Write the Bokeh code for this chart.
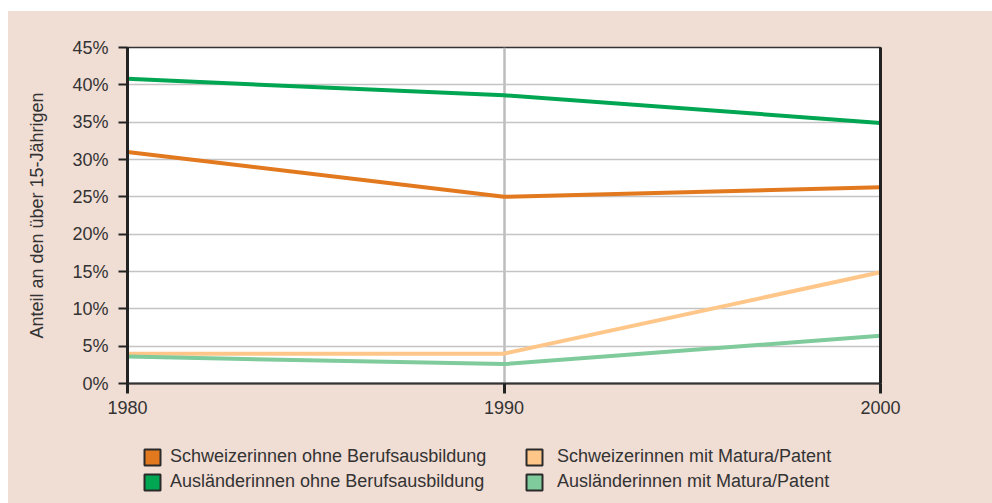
from bokeh.plotting import figure
from bokeh.models import (Range1d, LinearAxis, FixedTicker, Legend, LegendItem, Spacer)
from bokeh.layouts import column, row
from bokeh.embed import file_html
from bokeh.resources import INLINE

years = [1980, 1990, 2000]
ch_ohne = [31.0, 25.0, 26.3]
aus_ohne = [40.8, 38.6, 34.9]
ch_matura = [4.0, 4.0, 14.9]
aus_matura = [3.6, 2.6, 6.4]

series_names = ["Schweizerinnen ohne Berufsausbildung",
                "Ausländerinnen ohne Berufsausbildung",
                "Schweizerinnen mit Matura/Patent",
                "Ausländerinnen mit Matura/Patent"]
series_values = [ch_ohne, aus_ohne, ch_matura, aus_matura]
colors = ["#E2791F", "#00A651", "#FFC68A", "#7FCB9C"]

y_ticks = [0, 5, 10, 15, 20, 25, 30, 35, 40, 45]
y_labels = ["0%", "5%", "10%", "15%", "20%", "25%", "30%", "35%", "40%", "45%"]
x_ticks = [1980, 1990, 2000]
x_labels = ["1980", "1990", "2000"]

FONT = "Liberation Sans"
TXT = "#333333"
BG = "#F0DDD4"
NAN = float("nan")

p = figure(width=984, height=429, output_backend="svg", toolbar_location=None,
           x_range=Range1d(1980, 2000), y_range=Range1d(0, 45),
           min_border_left=119, min_border_right=112, min_border_top=36,
           min_border_bottom=57)
p.border_fill_color = BG
p.background_fill_color = "white"
p.outline_line_color = "#333333"
p.outline_line_width = 1.5

# axes
p.yaxis.ticker = FixedTicker(ticks=y_ticks)
p.yaxis.major_label_overrides = {t: l for t, l in zip(y_ticks, y_labels)}
p.yaxis.axis_line_width = 3
p.yaxis.axis_line_color = "#222222"
p.yaxis.major_tick_line_width = 2
p.yaxis.major_tick_line_color = "#222222"
p.yaxis.major_tick_out = 9
p.yaxis.major_tick_in = 0
p.yaxis.minor_tick_line_color = None
p.yaxis.major_label_standoff = 10
p.yaxis.axis_label = "Anteil an den über 15-Jährigen"
p.yaxis.axis_label_standoff = 22
p.yaxis.axis_label_text_font = FONT
p.yaxis.axis_label_text_font_style = "normal"
p.yaxis.axis_label_text_font_size = "18px"
p.yaxis.axis_label_text_color = TXT

p.xaxis.ticker = FixedTicker(ticks=x_ticks)
p.xaxis.major_label_overrides = {t: l for t, l in zip(x_ticks, x_labels)}
p.xaxis.axis_line_width = 2
p.xaxis.axis_line_color = "#333333"
p.xaxis.major_tick_line_width = 3
p.xaxis.major_tick_line_color = "#222222"
p.xaxis.major_tick_out = 10
p.xaxis.major_tick_in = 0
p.xaxis.minor_tick_line_color = None
p.xaxis.major_label_standoff = 7

for ax in (p.xaxis, p.yaxis):
    ax.major_label_text_font = FONT
    ax.major_label_text_font_size = "18px"
    ax.major_label_text_color = TXT

right = LinearAxis(ticker=FixedTicker(ticks=[]), axis_line_width=3,
                   axis_line_color="#222222", major_label_text_font_size="0px",
                   minor_tick_line_color=None)
p.add_layout(right, "right")

# grid
p.ygrid.ticker = FixedTicker(ticks=y_ticks)
p.ygrid.grid_line_color = "#C4C4C4"
p.ygrid.grid_line_width = 1.5
p.xgrid.ticker = FixedTicker(ticks=[1990])
p.xgrid.grid_line_color = "#BDBDBD"
p.xgrid.grid_line_width = 2.5

for vals, col in zip(series_values, colors):
    p.line(years, vals, line_color=col, line_width=4)

# legend strip below the chart (its frame aligns with the chart frame)
lg_fig = figure(width=984, height=63, output_backend="svg", toolbar_location=None,
                x_range=Range1d(0, 1), y_range=Range1d(0, 1), min_border=0)
lg_fig.axis.visible = False
lg_fig.grid.visible = False
lg_fig.outline_line_color = None
lg_fig.background_fill_alpha = 0
lg_fig.border_fill_alpha = 0

items = []
for name, col in zip(series_names, colors):
    # invisible proxy (NaN geometry) supplying the square legend swatch
    proxy = lg_fig.quad(left=[NAN], right=[NAN], top=[NAN], bottom=[NAN],
                        fill_color=col, line_color="#2A2A2A", line_width=2)
    items.append(LegendItem(label=name, renderers=[proxy]))

def make_legend(its, x, standoff):
    lg = Legend(items=its, location=(x, 11), orientation="vertical",
                padding=0, margin=0, spacing=4, glyph_width=20, glyph_height=20,
                label_height=20, label_standoff=standoff,
                background_fill_alpha=0, border_line_alpha=0,
                label_text_font=FONT, label_text_font_size="18px",
                label_text_color=TXT)
    lg_fig.add_layout(lg, "center")

make_legend([items[0], items[1]], 15, 8)
make_legend([items[2], items[3]], 397, 13)

chart = column(p, lg_fig, spacing=0, styles={"background-color": BG})
layout = row(Spacer(width=8, height=503),
             column(Spacer(height=11, width=984), chart, spacing=0),
             spacing=0)
open("out.html", "w").write(file_html(layout, INLINE))
